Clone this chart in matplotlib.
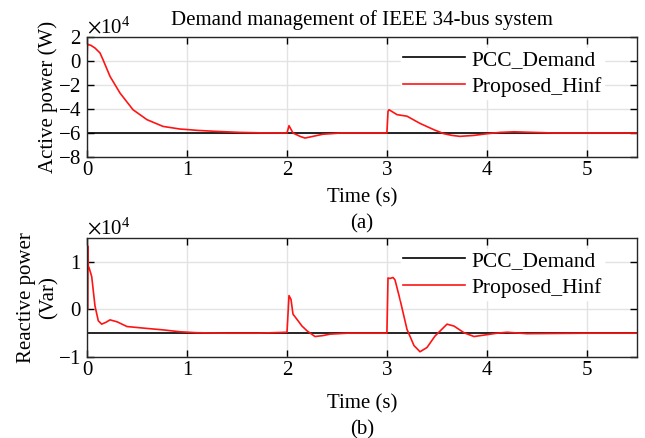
import numpy as np
import matplotlib
matplotlib.use("Agg")
import matplotlib.pyplot as plt
from matplotlib.ticker import ScalarFormatter

plt.rcParams['font.family'] = ['Liberation Serif', 'DejaVu Serif']
plt.rcParams['mathtext.fontset'] = 'stix'
plt.rcParams['font.size'] = 15

SCALE = 1e4

# ---- (a) Active power, values in x1e4 W ----
t_p = [0, 0.005, 0.01, 0.04, 0.08, 0.13, 0.16, 0.23, 0.33, 0.46, 0.6, 0.76, 0.93,
       1.03, 1.1, 1.28, 1.53, 1.75, 2.0, 2.02, 2.06, 2.13, 2.18, 2.26, 2.36, 2.45,
       2.53, 2.7, 2.999, 3.01, 3.02, 3.1, 3.2, 3.33, 3.47, 3.57, 3.65, 3.73, 3.87,
       4.0, 4.13, 4.27, 4.47, 4.67, 5.0, 5.5]
p_hinf = [0, 1.36, 1.38, 1.3, 1.08, 0.67, 0.11, -1.28, -2.67, -4.06, -4.89, -5.45, -5.67,
          -5.73, -5.78, -5.86, -5.95, -5.99, -6.0, -5.39, -6.0, -6.28, -6.42, -6.28, -6.1, -6.05,
          -6.0, -6.0, -6.0, -4.2, -4.06, -4.47, -4.6, -5.2, -5.73, -6.06, -6.2, -6.28, -6.2,
          -6.06, -5.95, -5.9, -5.95, -6.0, -6.0, -6.0]
t_demand = [0, 5.5]
p_demand = [-6.0, -6.0]

# ---- (b) Reactive power, values in x1e4 Var ----
t_q = [0, 0.008, 0.01, 0.013, 0.02, 0.047, 0.08, 0.113, 0.147, 0.19, 0.23, 0.3, 0.4,
       0.6, 0.76, 0.93, 1.1, 1.4, 1.7, 2.0, 2.02, 2.04, 2.06, 2.1, 2.15, 2.2, 2.28,
       2.36, 2.43, 2.6, 2.999, 3.01, 3.03, 3.06, 3.08, 3.13, 3.2, 3.27, 3.33, 3.4,
       3.48, 3.6, 3.67, 3.77, 3.87, 3.97, 4.1, 4.2, 4.4, 5.0, 5.5]
q_hinf = [0, 0.0, 1.33, 0.9, 0.88, 0.69, 0.07, -0.24, -0.31, -0.27, -0.22, -0.26, -0.36,
          -0.40, -0.43, -0.47, -0.49, -0.5, -0.5, -0.48, 0.29, 0.21, -0.1, -0.21, -0.35, -0.45, -0.57,
          -0.55, -0.52, -0.5, -0.5, 0.66, 0.65, 0.67, 0.62, 0.21, -0.42, -0.76, -0.89, -0.8,
          -0.56, -0.31, -0.35, -0.49, -0.57, -0.54, -0.5, -0.48, -0.51, -0.5, -0.5]
q_demand = [-0.5, -0.5]

W, H = 645, 438
fig = plt.figure(figsize=(W / 100, H / 100), dpi=100)

def make_axes(top_px, bot_px):
    left, right = 87, 637
    return fig.add_axes([left / W, 1 - bot_px / H, (right - left) / W, (bot_px - top_px) / H])

ax1 = make_axes(37, 157)
ax2 = make_axes(238, 357)

def style(ax):
    ax.grid(True, color='#e3e3e3', linewidth=1.0)
    ax.set_axisbelow(True)
    ax.tick_params(direction='in', top=True, right=True, length=5, width=1, labelsize=15)
    ax.tick_params(axis='x', pad=3)
    ax.tick_params(axis='y', pad=4)
    for s in ax.spines.values():
        s.set_linewidth(1.0)
        s.set_color('#262626')
    fmt = ScalarFormatter(useMathText=True)
    fmt.set_powerlimits((0, 0))
    ax.yaxis.set_major_formatter(fmt)
    ax.yaxis.get_offset_text().set_fontsize(15)
    ax.set_xlim(0, 5.5)
    ax.set_xticks([0, 1, 2, 3, 4, 5])

leg_kw = dict(loc='upper right', frameon=True, edgecolor='white', framealpha=1, fancybox=False,
              fontsize=15.5, handlelength=2.9, borderpad=0.1, labelspacing=0.3, handletextpad=0.3,
              bbox_to_anchor=(0.96, 1.0))

ax1.plot(t_demand, np.array(p_demand) * SCALE, color='black', lw=1.2, label='PCC_Demand')
ax1.plot(t_p, np.array(p_hinf) * SCALE, color='#ff1414', lw=1.2, label='Proposed_Hinf')
style(ax1)
ax1.set_ylim(-8e4, 2e4)
ax1.set_yticks(np.array([-8, -6, -4, -2, 0, 2]) * SCALE)
ax1.set_ylabel('Active power (W)', fontsize=15, labelpad=0)
ax1.set_xlabel('Time (s)', fontsize=15, labelpad=6)
ax1.set_title('Demand management of IEEE 34-bus system', fontsize=15, pad=9)
ax1.text(0.5, -0.56, '(a)', transform=ax1.transAxes, ha='center', va='center', fontsize=15)
ax1.legend(**leg_kw)

ax2.plot(t_demand, np.array(q_demand) * SCALE, color='black', lw=1.2, label='PCC_Demand')
ax2.plot(t_q, np.array(q_hinf) * SCALE, color='#ff1414', lw=1.2, label='Proposed_Hinf')
style(ax2)
ax2.set_ylim(-1e4, 1.5e4)
ax2.set_yticks(np.array([-1, 0, 1]) * SCALE)
ax2.set_ylabel('Reactive power\n(Var)', fontsize=15, labelpad=0, linespacing=1.2)
ax2.set_xlabel('Time (s)', fontsize=15, labelpad=10)
ax2.text(0.5, -0.61, '(b)', transform=ax2.transAxes, ha='center', va='center', fontsize=15)
ax2.legend(**leg_kw)

fig.savefig('out.png', dpi=100)
